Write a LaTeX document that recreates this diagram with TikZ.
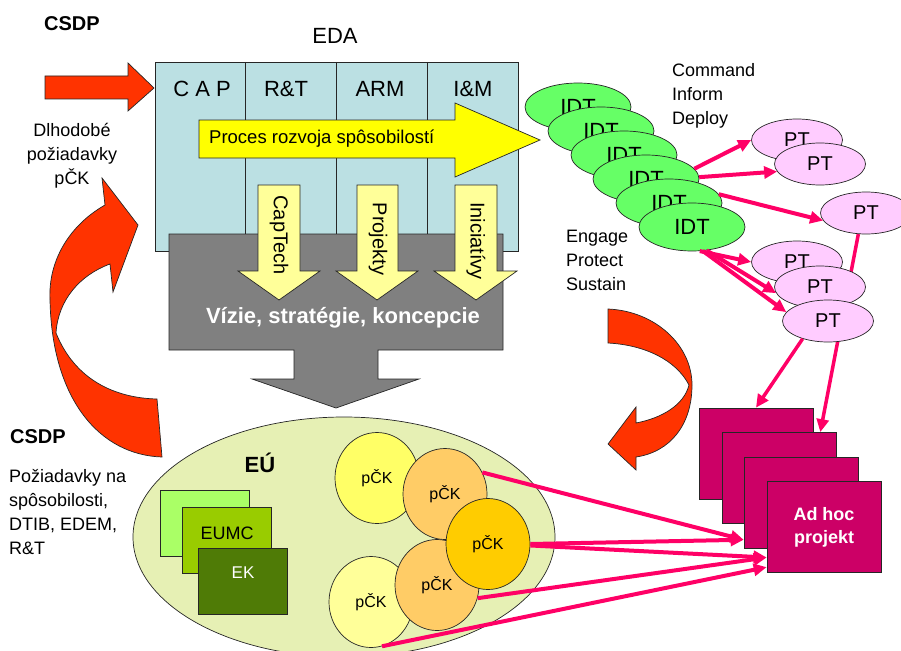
\documentclass[tikz,border=0pt]{standalone}
\usepackage{fontspec}
\setmainfont{Liberation Sans}
\usetikzlibrary{shapes.geometric,arrows.meta}
\pgfdeclarelayer{bg}
\pgfsetlayers{bg,main}
\definecolor{boxblue}{HTML}{BBE0E3}
\definecolor{redarrow}{HTML}{FF3300}
\definecolor{procyellow}{HTML}{FFFF00}
\definecolor{paleyellow}{HTML}{FFFF99}
\definecolor{greyshape}{HTML}{808080}
\definecolor{idtgreen}{HTML}{66FF66}
\definecolor{ptpink}{HTML}{FFCCFF}
\definecolor{connpink}{HTML}{FF0066}
\definecolor{adhocfill}{HTML}{CC0066}
\definecolor{eufill}{HTML}{E6F0B4}
\definecolor{gA}{HTML}{AAFF66}
\definecolor{gB}{HTML}{99CC00}
\definecolor{gC}{HTML}{4F7B06}
\definecolor{ckA}{HTML}{FFFF66}
\definecolor{ckB}{HTML}{FFCC66}
\definecolor{ckC}{HTML}{FFCC00}
\definecolor{ckD}{HTML}{FFFF99}
\begin{document}
\begin{tikzpicture}[x=1pt,y=-1pt,
  outl/.style={draw=black!85, line width=0.7pt},
  txt/.style={inner sep=0pt, font=\fontsize{18}{24}\selectfont},
  bigtxt/.style={inner sep=0pt, font=\fontsize{22}{26}\selectfont},
  boldtxt/.style={inner sep=0pt, font=\bfseries\fontsize{20}{24}\selectfont},
  arrowtxt/.style={inner sep=0pt, font=\fontsize{20}{24}\selectfont, rotate=-90},
  idt/.style={ellipse, outl, fill=idtgreen, minimum width=106pt, minimum height=48pt, inner sep=0pt, font=\fontsize{22}{26}\selectfont},
  pt/.style={ellipse, outl, fill=ptpink, minimum width=91pt, minimum height=42pt, inner sep=0pt, font=\fontsize{20}{24}\selectfont},
  ck/.style={ellipse, outl, minimum width=84pt, minimum height=91pt, inner sep=0pt, font=\fontsize{16}{20}\selectfont},
  gbox/.style={rectangle, outl, minimum width=89pt, minimum height=66pt, inner sep=0pt},
  adhocbox/.style={rectangle, outl, fill=adhocfill, minimum width=114pt, minimum height=91pt, inner sep=0pt},
  conn/.style={draw=connpink, line width=4pt, -{Triangle[length=13pt,width=12pt]}},
  connline/.style={draw=connpink, line width=3.5pt, -{Triangle[length=13pt,width=12pt]}}
]
\useasboundingbox (0,0) rectangle (901,650);
\clip (0,0) rectangle (901,650);

% straight red arrow into the box
\draw[outl, fill=redarrow] (45,76) -- (128,76) -- (128,63) -- (154,88) -- (128,111) -- (128,99) -- (45,99) -- cycle;

% EDA box
\draw[outl, fill=boxblue] (155,62) rectangle (518,251);
\foreach \xx in {245,336,427} \draw[outl] (\xx,62) -- (\xx,251);
\node[bigtxt] (cap) at (202,89) {C A P};
\node[bigtxt] (rt) at (286,89) {R\&T};
\node[bigtxt] (arm) at (380,89) {ARM};
\node[bigtxt] (im) at (473,89) {I\&M};
\node[bigtxt] (eda) at (335,36) {EDA};

% grey block with arrow
\draw[outl, fill=greyshape] (169,234) -- (503,234) -- (503,350) -- (378,350) -- (378,379) -- (419,379) -- (336,408) -- (252,379) -- (294,379) -- (294,350) -- (169,350) -- cycle;

% Proces arrow
\draw[outl, fill=procyellow] (199,120) -- (455,120) -- (455,103) -- (540,140) -- (455,177) -- (455,158) -- (199,158) -- cycle;
\node[inner sep=0pt, font=\fontsize{18.5}{24}\selectfont, anchor=west] (proc) at (209,139) {Proces rozvoja spôsobilostí};

% pale yellow down arrows
\draw[outl, fill=paleyellow] (258,185) -- (300,185) -- (300,271) -- (320,271) -- (279,300) -- (238,271) -- (258,271) -- cycle;
\draw[outl, fill=paleyellow] (357,185) -- (398,185) -- (398,271) -- (418,271) -- (377,300) -- (336,271) -- (357,271) -- cycle;
\draw[outl, fill=paleyellow] (455,185) -- (497,185) -- (497,271) -- (517,271) -- (476,300) -- (434,271) -- (455,271) -- cycle;
\node[arrowtxt] (captech) at (279,235) {CapTech};
\node[arrowtxt] (projekty) at (378,239) {Projekty};
\node[arrowtxt] (inic) at (476,241) {Iniciatívy};

\node[inner sep=0pt, text=white, font=\bfseries\fontsize{22}{26}\selectfont] (vizie) at (343,318) {Vízie, stratégie, koncepcie};

% left curved red arrow
\draw[outl, fill=redarrow] (157,399) .. controls (115,398) and (75,380) .. (56,333)
  .. controls (58,300) and (80,275) .. (110,264) -- (113,292) -- (138,225) -- (102,178) -- (105,205)
  .. controls (70,225) and (48,260) .. (50,300) .. controls (52,400) and (100,455) .. (162,457) -- cycle;

% right curved red arrow
\draw[outl, fill=redarrow] (608,309) .. controls (655,311) and (692,345) .. (692,385)
  .. controls (692,425) and (670,452) .. (636,457) -- (636,470) -- (608,444) -- (636,407) -- (636,423)
  .. controls (662,418) and (684,405) .. (689,385) .. controls (676,360) and (645,345) .. (608,343) -- cycle;

% EU ellipse
\node[ellipse, outl, fill=eufill, minimum width=422pt, minimum height=240pt, inner sep=0pt] (eu) at (344,537) {};
\node[inner sep=0pt, font=\bfseries\fontsize{22}{26}\selectfont] (eulabel) at (260,463) {EÚ};
\node[gbox, fill=gA] (r1) at (205,523.5) {};
\node[gbox, fill=gB] (r2) at (227,540) {};
\node[gbox, fill=gC] (r3) at (242.5,581) {};
\node[txt] (eumc) at (227,533) {EUMC};
\node[inner sep=0pt, text=white, font=\fontsize{17}{20}\selectfont] (ek) at (243,573) {EK};

% pCK circles
\node[ck, fill=ckA] (c1) at (377,478) {pČK};
\node[ck, fill=ckB] (c2) at (445,494) {pČK};
\node[ck, fill=ckD] (c5) at (371,602) {pČK};
\node[ck, fill=ckB] (c4) at (437,585) {pČK};
\node[ck, fill=ckC] (c3) at (488,544) {pČK};

% IDT ellipses
\node[idt] (idt1) at (578,107) {IDT};
\node[idt] (idt2) at (601,131) {IDT};
\node[idt] (idt3) at (624,155) {IDT};
\node[idt] (idt4) at (646,179) {IDT};
\node[idt] (idt5) at (669,203) {IDT};
\node[idt] (idt6) at (692,227) {IDT};

% Ad hoc boxes
\node[adhocbox] (box1) at (756,453.5) {};
\node[adhocbox] (box2) at (779,478) {};
\node[adhocbox] (box3) at (801,502.5) {};
\node[adhocbox, align=center, text=white, font=\bfseries\fontsize{18}{23}\selectfont] (box4) at (824,527) {Ad hoc\\projekt};

% PT ellipses
\node[pt] (pt1) at (797,140) {PT};
\node[pt] (pt2) at (820,164) {PT};
\node[pt] (pt3) at (866,213) {PT};
\node[pt] (pt4) at (797,262) {PT};
\node[pt] (pt5) at (820,287) {PT};
\node[pt] (pt6) at (828,321) {PT};

% connectors IDT -> PT
\draw[conn] (idt4.12) -- (pt1.west);
\draw[conn] (idt4.2) -- (pt2.190);
\draw[conn] (idt5.10) -- (pt3.190);
\draw[conn] (idt6.-72) -- (pt4.west);
\draw[conn] (idt6.-58) -- (pt5.188);
\draw[conn] (idt6.-66) -- (pt6.168);

% PT3 -> box2, passing behind PT5 and PT6
\begin{pgfonlayer}{bg}
\draw[connline] (pt3.250) -- (box2.48);
\end{pgfonlayer}
\draw[connline] (pt6.215) -- (box1.north);

% connectors pCK -> Ad hoc
\draw[conn] (c2.30) -- (box3.213);
\draw[conn] (c3.east) -- (box3.213);
\draw[conn] (c3.-2) -- (box4.208);
\draw[conn] (c4.-18) -- (box4.208);
\draw[conn] (c5.-76) -- (box4.215);

% texts
\node[boldtxt] (csdp1) at (72,24) {CSDP};
\node[txt, align=center] (dlh) at (72,156) {Dlhodobé\\požiadavky\\pČK};
\node[boldtxt] (csdp2) at (38,437) {CSDP};
\node[txt, align=left, anchor=west] (poz) at (9,512) {Požiadavky na\\spôsobilosti,\\DTIB, EDEM,\\R\&T};
\node[txt, align=left, anchor=west] (cid) at (672,96) {Command\\Inform\\Deploy};
\node[txt, align=left, anchor=west] (eps) at (566,260) {Engage\\Protect\\Sustain};
\end{tikzpicture}
\end{document}
